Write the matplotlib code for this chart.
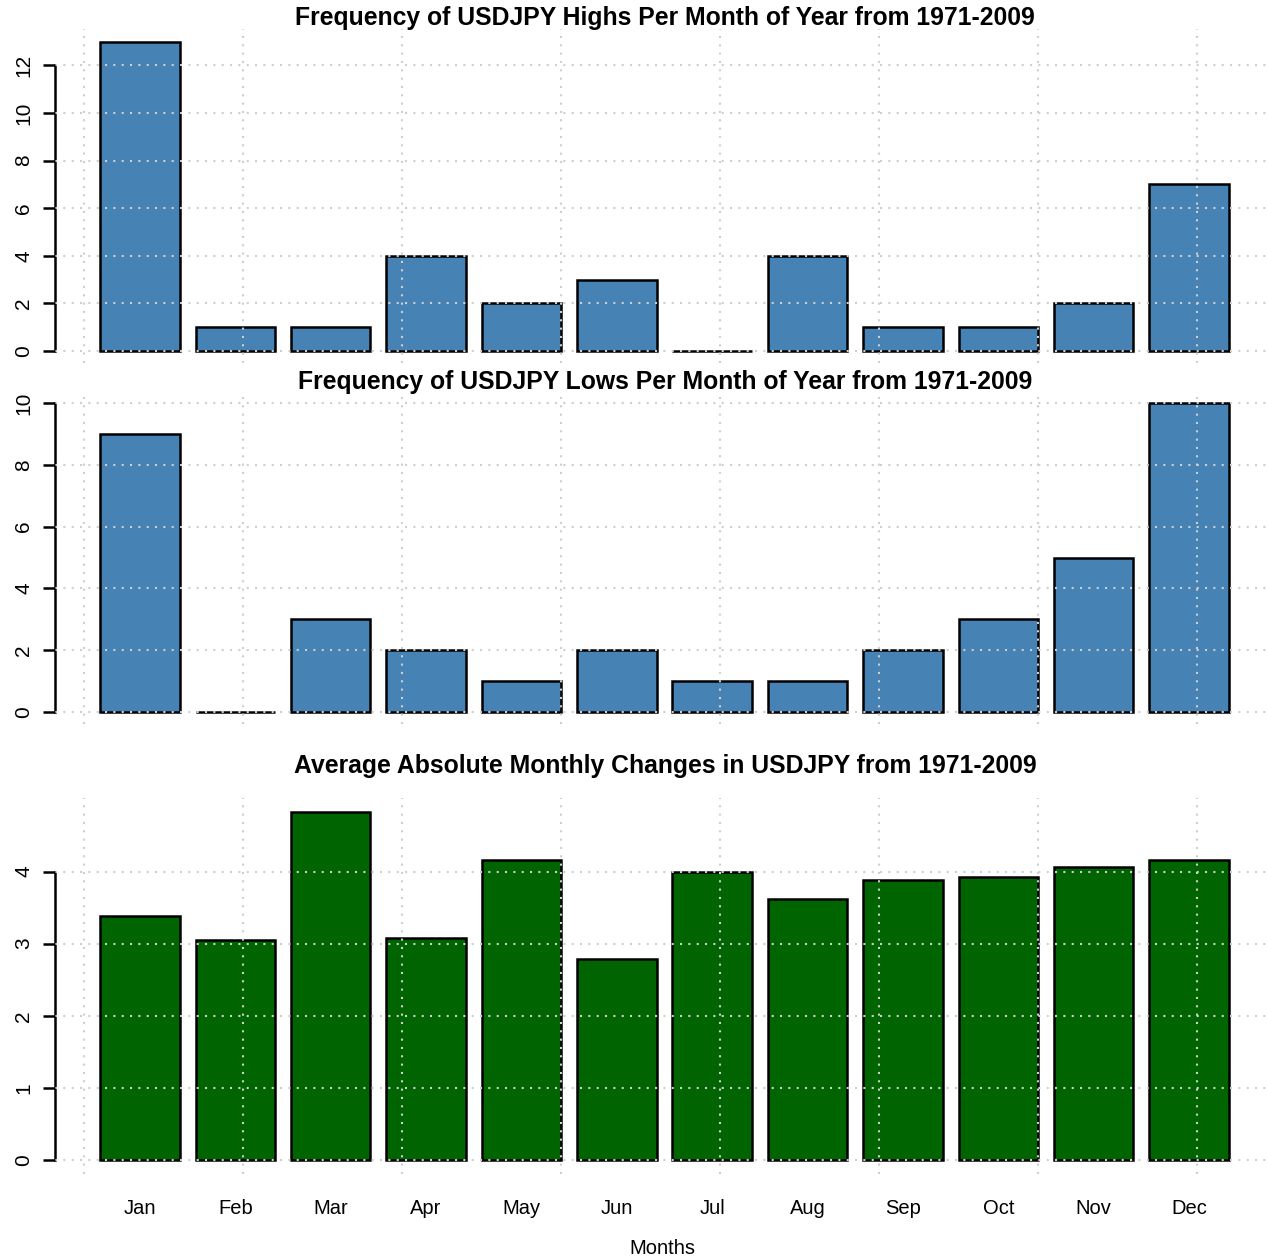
import numpy as np
import matplotlib.pyplot as plt

# data
months = ["Jan", "Feb", "Mar", "Apr", "May", "Jun",
          "Jul", "Aug", "Sep", "Oct", "Nov", "Dec"]
highs = [13, 1, 1, 4, 2, 3, 0, 4, 1, 1, 2, 7]
lows = [9, 0, 3, 2, 1, 2, 1, 1, 2, 3, 5, 10]
avg_change = [3.39, 3.05, 4.83, 3.08, 4.16, 2.79, 4.00, 3.62, 3.88, 3.92, 4.06, 4.16]

title_hi = "Frequency of USDJPY Highs Per Month of Year from 1971-2009"
title_lo = "Frequency of USDJPY Lows Per Month of Year from 1971-2009"
title_avg = "Average Absolute Monthly Changes in USDJPY from 1971-2009"

plt.rcParams['font.family'] = ['Liberation Sans', 'DejaVu Sans']

W, H = 1268, 1260
fig = plt.figure(figsize=(W / 100, H / 100), dpi=100)

# bar centres like R's barplot (width 1, space 0.2)
xpos = 0.7 + 1.2 * np.arange(len(months))
xlim = (0.2 - 0.568, 14.4 + 0.568)


def panel(top_px, bot_px, vals, color, title, title_px, yticks, xlabels=False):
    ax = fig.add_axes([55 / W, 1 - bot_px / H, (1274 - 55) / W, (bot_px - top_px) / H])
    ax.bar(xpos, vals, width=1.0, color=color, edgecolor='black', linewidth=1.8, zorder=2)
    hi = max(vals)
    ax.set_ylim(-0.04 * hi, hi * 1.04)
    ax.set_xlim(*xlim)

    for s in ['top', 'right', 'bottom']:
        ax.spines[s].set_visible(False)
    ax.spines['left'].set_bounds(yticks[0], yticks[-1])
    ax.spines['left'].set_linewidth(1.8)

    ax.set_yticks(yticks)
    ax.tick_params(axis='y', length=8.6, width=1.8, pad=7, labelsize=15)
    plt.setp(ax.get_yticklabels(), rotation=90, va='center')

    # grid like R's grid(): dotted lightgray, drawn on top of the bars
    ax.set_xticks(np.arange(0, 15, 2), minor=True)
    ax.grid(which='minor', axis='x', color='#CFCFCF', linestyle=(0, (1, 3)), linewidth=1.5, zorder=3)
    ax.grid(which='major', axis='y', color='#CFCFCF', linestyle=(0, (1, 3)), linewidth=1.5, zorder=3)
    ax.set_axisbelow(False)

    if xlabels:
        ax.set_xticks(xpos, months)
        ax.tick_params(axis='x', which='both', length=0, pad=18, labelsize=14.5)
    else:
        ax.set_xticks(xpos, [""] * len(months))
        ax.tick_params(axis='x', which='both', length=0)
    ax.tick_params(axis='x', which='minor', length=0)

    fig.text(665 / W, 1 - title_px / H, title, ha='center', va='center',
             fontsize=17.8, fontweight='bold')
    return ax


panel(29.2, 363.4, highs, '#4682B4', title_hi, 18, [0, 2, 4, 6, 8, 10, 12])
panel(390.6, 724.4, lows, '#4682B4', title_lo, 382, [0, 2, 4, 6, 8, 10])
panel(797.8, 1173.9, avg_change, '#006400', title_avg, 766, [0, 1, 2, 3, 4], xlabels=True)

fig.text(662 / W, 1 - 1248 / H, "Months", ha='center', va='center', fontsize=14.5)

plt.savefig("out.png", dpi=100)
